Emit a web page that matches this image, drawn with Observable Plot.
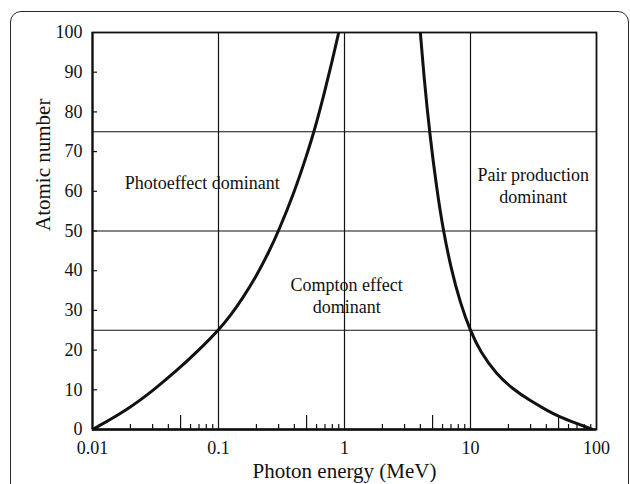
<!DOCTYPE html>
<html><head><meta charset="utf-8">
<script src="https://cdn.jsdelivr.net/npm/d3@7"></script>
<script src="https://cdn.jsdelivr.net/npm/@observablehq/plot@0.6"></script>
<style>
html,body{margin:0;padding:0;background:#fff;width:630px;height:484px;overflow:hidden;}
#card{position:absolute;left:10px;top:11px;width:619px;height:540px;border:1.3px solid #2a2a2a;border-radius:11px;box-sizing:border-box;}
#chart{position:absolute;left:0;top:0;}
#chart svg, #chart svg text{font-family:"Liberation Serif","Times New Roman",serif !important;}
</style></head><body><div id="card"></div><div id="chart"></div>
<script>
// Axis ticks
const majorTicks = [0.01, 0.05, 0.1, 0.5, 1, 5, 10, 50, 100];
const majorLabels = ["0.01", "0.05", "0.1", "0.5", "1", "5", "10", "50", "100"];
const midTicks = [0.05, 0.5, 5, 50];
const minorTicks = [0.02, 0.03, 0.04, 0.06, 0.07, 0.08, 0.09,
                    0.2, 0.3, 0.4, 0.6, 0.7, 0.8, 0.9,
                    2, 3, 4, 6, 7, 8, 9,
                    20, 30, 40, 60, 70, 80, 90];
const zTicks = [0, 10, 20, 30, 40, 50, 60, 70, 80, 90, 100];
const zInnerTicks = [10, 20, 30, 40, 50, 60, 70, 80, 90];
const gridEnergy = [0.1, 1, 10];
const gridZ = [25, 50, 75];

// Photoeffect / Compton boundary
const photoE = [0.01, 0.019, 0.0307, 0.0473, 0.0698, 0.1, 0.126, 0.158, 0.2, 0.251, 0.3, 0.4, 0.5, 0.58, 0.7, 0.8, 0.9];
const photoZ = [0, 5, 10, 15, 20, 25, 28.9, 33.4, 38.7, 44.7, 50, 59.8, 69, 75.5, 85.4, 92.9, 100];
// Compton / pair production boundary
const pairE = [4.0, 4.25, 4.75, 5.4, 6.05, 7.0, 8.3, 10, 12, 16, 22, 30, 40, 50, 70, 93];
const pairZ = [100, 89.6, 74.3, 60.5, 50.5, 40.6, 31.8, 24.7, 19.5, 14, 10, 7.2, 4.9, 3.3, 1.5, 0];

// Region labels
const regionText = ["Photoeffect dominant", "Compton effect\ndominant", "Pair production\ndominant"];
const regionE = [0.0743, 1.04, 31.5];
const regionZ = [62.3, 33.8, 61.5];

const photo = photoE.map((e, i) => ({e, z: photoZ[i]}));
const pair = pairE.map((e, i) => ({e, z: pairZ[i]}));
const regions = regionText.map((t, i) => ({t, e: regionE[i], z: regionZ[i]}));
const labelOf = new Map(majorTicks.map((v, i) => [v, majorLabels[i]]));

const ink = "#111";
const font = "Liberation Serif, Times New Roman, serif";

const chart = Plot.plot({
  width: 630,
  height: 484,
  marginLeft: 92,
  marginRight: 34,
  marginTop: 32,
  marginBottom: 55,
  style: {fontFamily: font, fontSize: "18px", color: ink, background: "transparent"},
  x: {type: "log", domain: [0.01, 100], label: null},
  y: {domain: [0, 100], label: null},
  marks: [
    Plot.ruleX(gridEnergy, {stroke: ink, strokeWidth: 1.2}),
    Plot.ruleY(gridZ, {stroke: ink, strokeWidth: 1.2}),
    Plot.line(photo, {x: "e", y: "z", stroke: ink, strokeWidth: 3, curve: "basis", clip: true}),
    Plot.line(pair, {x: "e", y: "z", stroke: ink, strokeWidth: 3, curve: "basis", clip: true}),
    Plot.text(regions, {x: "e", y: "z", text: "t", fontSize: 18, fontFamily: font, lineHeight: 1.22, fill: ink, textAnchor: "middle"}),
    Plot.axisX({anchor: "bottom", ticks: minorTicks, tickSize: 5, dy: -5, tickFormat: () => "", stroke: ink, strokeWidth: 1.2, label: null}),
    Plot.axisX({anchor: "bottom", ticks: midTicks, tickSize: 14, dy: -14, tickFormat: () => "", stroke: ink, strokeWidth: 1.2, label: null}),
    Plot.axisX({anchor: "bottom", ticks: majorTicks, tickSize: 0, tickPadding: 12, tickFormat: d => labelOf.get(d), fontSize: 18, fontFamily: font, fill: ink, label: null}),
    Plot.axisY({anchor: "left", ticks: zInnerTicks, tickSize: 5, dx: 5, tickFormat: () => "", stroke: ink, strokeWidth: 1.2, label: null}),
    Plot.axisY({anchor: "left", ticks: zTicks, tickSize: 0, tickPadding: 10, fontSize: 18, fontFamily: font, fill: ink, label: null}),
    Plot.frame({stroke: ink, strokeWidth: 1.8}),
    Plot.ruleY([0], {stroke: ink, strokeWidth: 2.6}),
    Plot.ruleX([0.01], {stroke: ink, strokeWidth: 2}),
    Plot.text(["Photon energy (MeV)"], {frameAnchor: "bottom", dy: 48, lineAnchor: "bottom", fontSize: 21, fontFamily: font, fill: ink}),
    Plot.text(["Atomic number"], {frameAnchor: "left", rotate: -90, dx: -49, fontSize: 21, fontFamily: font, fill: ink})
  ]
});
document.getElementById("chart").appendChild(chart);
</script>
</body></html>
